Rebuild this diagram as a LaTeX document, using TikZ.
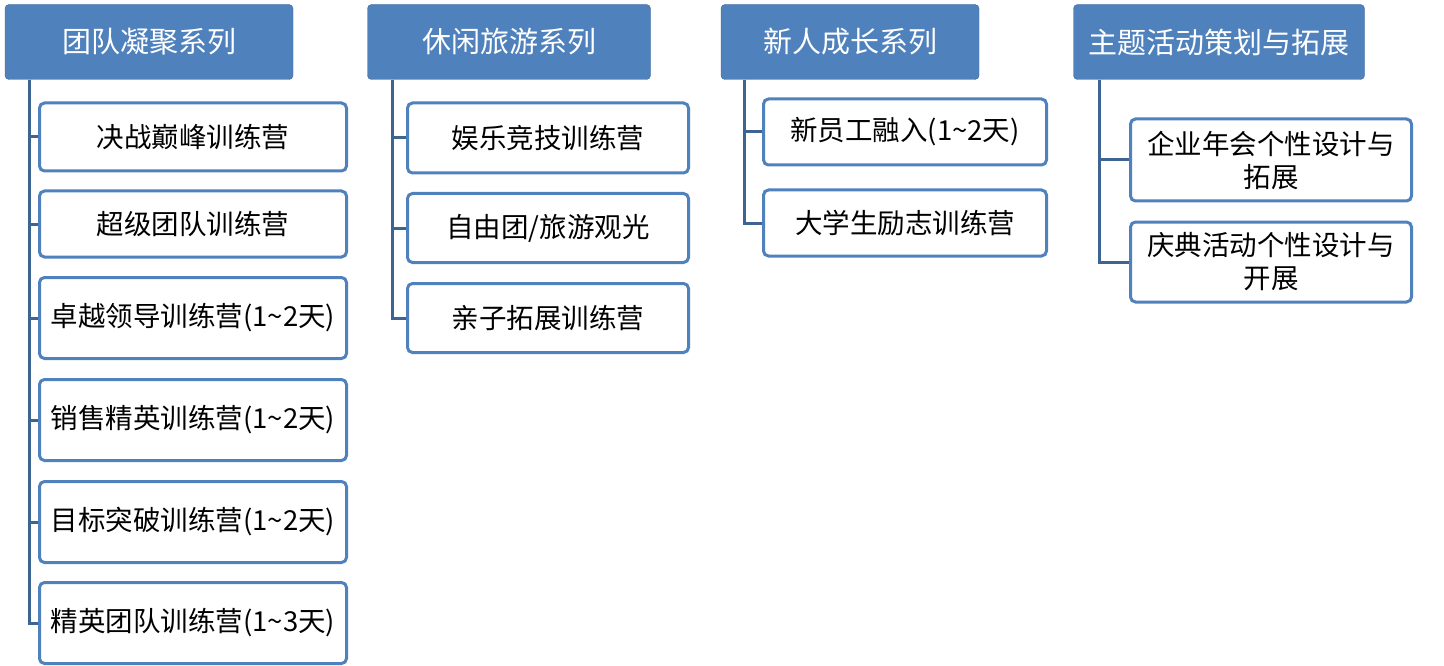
\documentclass[tikz,border=0pt]{standalone}
\usepackage{fontspec}
\setmainfont{Noto Sans CJK SC}
\definecolor{hdblue}{HTML}{4F81BD}
\definecolor{lnblue}{HTML}{3E6491}
\tikzset{
    header/.style={fill=hdblue, draw=hdblue!80!black, rounded corners=4pt, text=white, font=\fontsize{29}{33}\selectfont, inner sep=0pt},
    item/.style={draw=hdblue, line width=3pt, fill=white, rounded corners=5pt, font=\fontsize{27.5}{33}\selectfont, inner sep=0pt, align=center},
    trunk/.style={lnblue, line width=3pt}
}
\begin{document}
\begin{tikzpicture}[x=1pt,y=-1pt]
\useasboundingbox (0,0) rectangle (1444,666);

% Headers
\node[header, minimum width=288, minimum height=75] (h1) at (149,42) {团队凝聚系列};
\node[header, minimum width=283, minimum height=75] (h2) at (509,42) {休闲旅游系列};
\node[header, minimum width=258, minimum height=75] (h3) at (850,42) {新人成长系列};
\node[header, minimum width=291, minimum height=75] (h4) at (1219,42) {主题活动策划与拓展};

% Column 1
\node[item, minimum width=307, minimum height=68] (a1) at (193,137) {决战巅峰训练营};
\node[item, minimum width=307, minimum height=66] (a2) at (193,224) {超级团队训练营};
\node[item, minimum width=307, minimum height=81] (a3) at (193,318) {卓越领导训练营(1\textasciitilde2天)};
\node[item, minimum width=307, minimum height=81] (a4) at (193,420) {销售精英训练营(1\textasciitilde2天)};
\node[item, minimum width=307, minimum height=81] (a5) at (193,522) {目标突破训练营(1\textasciitilde2天)};
\node[item, minimum width=307, minimum height=81] (a6) at (193,623) {精英团队训练营(1\textasciitilde3天)};

% Column 2
\node[item, minimum width=281, minimum height=70] (b1) at (548,138) {娱乐竞技训练营};
\node[item, minimum width=281, minimum height=69] (b2) at (548,228) {自由团/旅游观光};
\node[item, minimum width=281, minimum height=69] (b3) at (548,318) {亲子拓展训练营};

% Column 3
\node[item, minimum width=283, minimum height=66] (c1) at (905,132) {新员工融入(1\textasciitilde2天)};
\node[item, minimum width=283, minimum height=66] (c2) at (905,223) {大学生励志训练营};

% Column 4
\node[item, minimum width=281, minimum height=82] (d1) at (1271,160) {企业年会个性设计与\\拓展};
\node[item, minimum width=281, minimum height=80] (d2) at (1271,262) {庆典活动个性设计与\\开展};

% Connectors
\foreach \c in {a1,a2,a3,a4,a5,a6} {
    \draw[trunk] ([xshift=25pt]h1.south west) |- (\c.west);
}
\foreach \c in {b1,b2,b3} {
    \draw[trunk] ([xshift=25pt]h2.south west) |- (\c.west);
}
\foreach \c in {c1,c2} {
    \draw[trunk] ([xshift=24pt]h3.south west) |- (\c.west);
}
\foreach \c in {d1,d2} {
    \draw[trunk] ([xshift=26pt]h4.south west) |- (\c.west);
}
\end{tikzpicture}
\end{document}
